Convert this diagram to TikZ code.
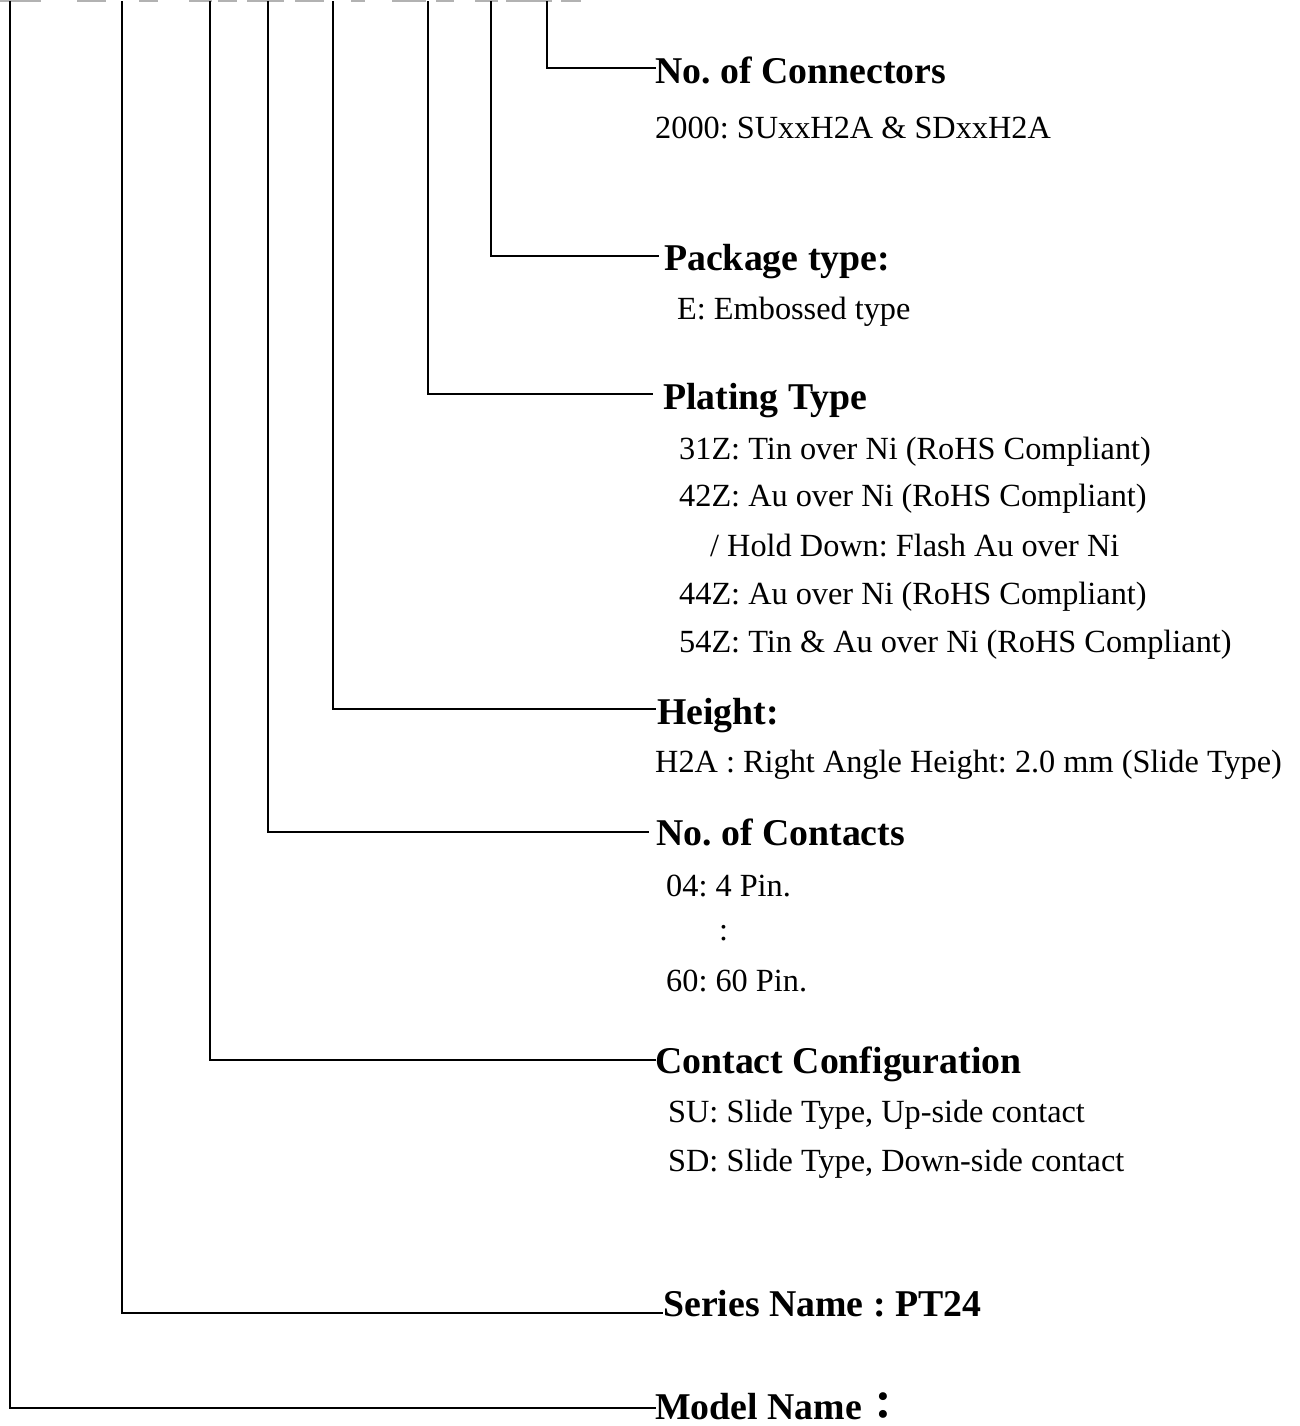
\documentclass[tikz,border=0pt]{standalone}
\usepackage{fontspec}
\setmainfont{Liberation Serif}
\newfontfamily\cjkfont{Noto Sans CJK TC}
\frenchspacing
\begin{document}
\begin{tikzpicture}[x=1pt,y=-1pt,
  hdr/.style={anchor=base west, inner sep=0pt, font=\fontsize{37.8}{40}\selectfont\bfseries},
  sub/.style={anchor=base west, inner sep=0pt, font=\fontsize{32.3}{34}\selectfont},
  leader/.style={draw=black, line width=2.3pt, line cap=rect},
  topmark/.style={draw=black!30, line width=1.6pt}]
\useasboundingbox (0,0) rectangle (1299,1426);
% faint marks at the top edge
\foreach \a/\b in {0/41,77/106,139/158,189/212,218/237,247/284,295/324,351/365,392/426,436/454,475/498,506/552,561/581}
  \draw[topmark] (\a,0.8) -- (\b,0.8);
% tops of the vertical leaders
\coordinate (t1) at (547,2);
\coordinate (t2) at (491,2);
\coordinate (t3) at (428,2);
\coordinate (t4) at (333,2);
\coordinate (t5) at (268,2);
\coordinate (t6) at (210,2);
\coordinate (t7) at (122,2);
\coordinate (t8) at (10,2);
% headers
\node[hdr] (h1) at (655,84) {No. of Connectors};
\node[hdr] (h2) at (664,270) {Package type:};
\node[hdr] (h3) at (663,409) {Plating Type};
\node[hdr] (h4) at (657,724) {Height:};
\node[hdr] (h5) at (656,845) {No. of Contacts};
\node[hdr] (h6) at (655,1073) {Contact Configuration};
\node[hdr] (h7) at (663,1316) {Series Name : PT24};
\node[hdr] (h8) at (655,1419) {Model Name\hspace{2pt}{\cjkfont\bfseries ：}};
% leader ends
\coordinate (e1) at (655,68);
\coordinate (e2) at (658,256);
\coordinate (e3) at (652,394);
\coordinate (e4) at (655,709);
\coordinate (e5) at (648,832);
\coordinate (e6) at (655,1060);
\coordinate (e7) at (662,1313);
\coordinate (e8) at (655,1408);
\foreach \i in {1,...,8}
  \draw[leader] (t\i) |- (e\i);
% details
\node[sub] (s1) at (655,139) {2000: SUxxH2A \& SDxxH2A};
\node[sub] (s2) at (677,319) {E: Embossed type};
\node[sub] (s3a) at (679,459) {31Z: Tin over Ni (RoHS Compliant)};
\node[sub] (s3b) at (679,506) {42Z: Au over Ni (RoHS Compliant)};
\node[sub] (s3c) at (710,556) {/ Hold Down: Flash Au over Ni};
\node[sub] (s3d) at (679,604) {44Z: Au over Ni (RoHS Compliant)};
\node[sub] (s3e) at (679,652) {54Z: Tin \& Au over Ni (RoHS Compliant)};
\node[sub] (s4) at (655,772) {H2A : Right Angle Height: 2.0 mm (Slide Type)};
\node[sub] (s5a) at (666,896) {04: 4 Pin.};
\node[sub] (s5b) at (719,940) {:};
\node[sub] (s5c) at (666,991) {60: 60 Pin.};
\node[sub] (s6a) at (668,1122) {SU: Slide Type, Up-side contact};
\node[sub] (s6b) at (668,1171) {SD: Slide Type, Down-side contact};
\end{tikzpicture}
\end{document}
